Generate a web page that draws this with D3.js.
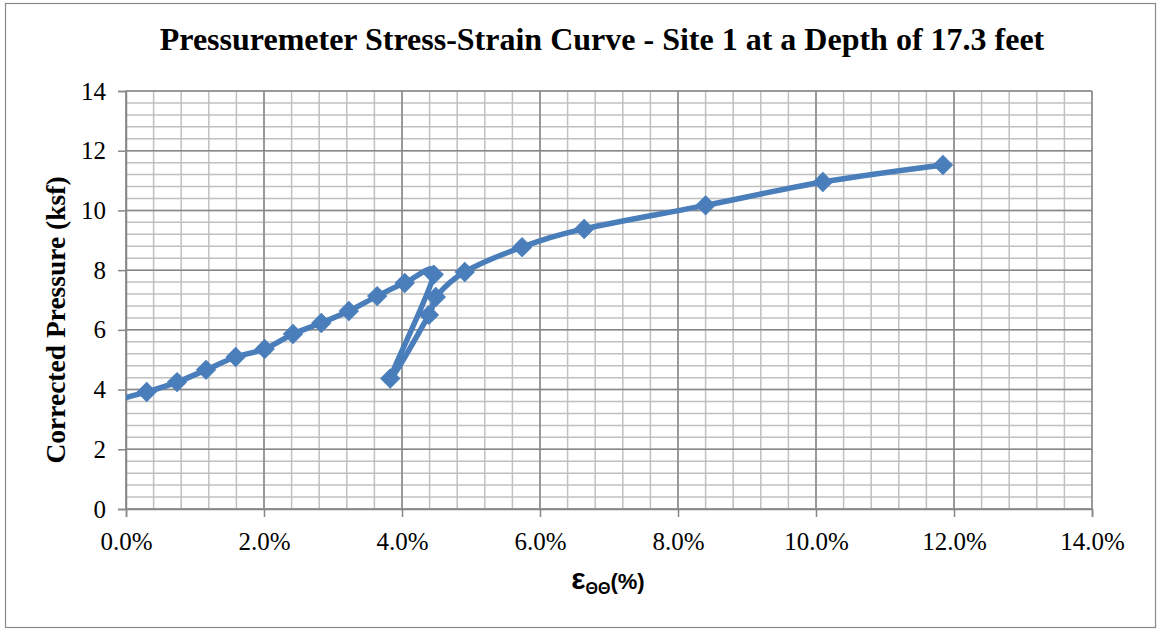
<!DOCTYPE html>
<html>
<head>
  <meta charset="utf-8">
  <title>Pressuremeter Stress-Strain Curve</title>
  <script src="https://d3js.org/d3.v7.min.js"></script>
  <style>
    body { margin: 0; background: #fff; }
    .tick text { font-family: "Liberation Serif", "Times New Roman", serif; font-size: 25px; fill: #000; }
    .title { font-family: "Liberation Serif", "Times New Roman", serif; font-weight: bold; font-size: 32px; }
    .ylabel { font-family: "Liberation Serif", "Times New Roman", serif; font-weight: bold; font-size: 27.5px; }
    .xlabel { font-family: "Liberation Sans", Arial, sans-serif; font-weight: bold; }
  </style>
</head>
<body>
  <svg width="1157" height="629"></svg>
  <script>
    // strain in percent, corrected pressure in ksf (first point sits left of the axis, clipped like the original)
    var strain = [-0.30, 0.30, 0.74, 1.16, 1.59, 2.01, 2.42, 2.83, 3.23, 3.64, 4.04, 4.46, 3.83, 4.39, 4.49, 4.91, 5.74, 6.64, 8.40, 10.10, 11.84];
    var pressure = [3.55, 3.92, 4.25, 4.66, 5.09, 5.36, 5.86, 6.23, 6.63, 7.13, 7.57, 7.85, 4.37, 6.50, 7.10, 7.94, 8.77, 9.38, 10.17, 10.95, 11.52];
    var xTicks = [0, 2, 4, 6, 8, 10, 12, 14];
    var yTicks = [0, 2, 4, 6, 8, 10, 12, 14];
    var xMinor = d3.range(0, 14.01, 0.4);
    var yMinor = d3.range(0, 14.01, 0.4);

    (function () {
      var points = strain.map(function (d, i) { return { x: d, y: pressure[i] }; });

      var pLeft = 126, pRight = 1092, pTop = 91, pBottom = 509;
      var svg = d3.select('svg');

      // outer chart border
      svg.append('rect')
        .attr('x', 5.5).attr('y', 3.5).attr('width', 1150).attr('height', 624)
        .attr('fill', 'none').attr('stroke', '#898989').attr('stroke-width', 1.2);

      var x = d3.scaleLinear().domain([0, 14]).range([pLeft, pRight]);
      var y = d3.scaleLinear().domain([0, 14]).range([pBottom, pTop]);

      // minor grid
      svg.append('g').selectAll('line').data(xMinor).enter().append('line')
        .attr('x1', d => x(d)).attr('x2', d => x(d)).attr('y1', pTop).attr('y2', pBottom)
        .attr('stroke', '#c0c0c0').attr('stroke-width', 1.5);
      svg.append('g').selectAll('line').data(yMinor).enter().append('line')
        .attr('y1', d => y(d)).attr('y2', d => y(d)).attr('x1', pLeft).attr('x2', pRight)
        .attr('stroke', '#c0c0c0').attr('stroke-width', 1.5);

      // major grid
      svg.append('g').selectAll('line').data(xTicks).enter().append('line')
        .attr('x1', d => x(d)).attr('x2', d => x(d)).attr('y1', pTop).attr('y2', pBottom)
        .attr('stroke', '#878787').attr('stroke-width', 1.5);
      svg.append('g').selectAll('line').data(yTicks).enter().append('line')
        .attr('y1', d => y(d)).attr('y2', d => y(d)).attr('x1', pLeft).attr('x2', pRight)
        .attr('stroke', '#878787').attr('stroke-width', 1.5);

      // axes
      var xAxis = d3.axisBottom(x).tickValues(xTicks).tickSize(8).tickPadding(10)
        .tickFormat(d => d.toFixed(1) + '%');
      var yAxis = d3.axisLeft(y).tickValues(yTicks).tickSize(8).tickPadding(12);

      var gx = svg.append('g').attr('transform', 'translate(0,' + pBottom + ')').call(xAxis);
      var gy = svg.append('g').attr('transform', 'translate(' + pLeft + ',0)').call(yAxis);
      [gx, gy].forEach(function (g) {
        g.select('.domain').attr('stroke', '#878787').attr('stroke-width', 1.5);
        g.selectAll('.tick line').attr('stroke', '#878787').attr('stroke-width', 1.5);
        g.selectAll('.tick text').attr('font-family', null).attr('font-size', null);
      });
      gx.attr('font-family', null).attr('font-size', null);
      gy.attr('font-family', null).attr('font-size', null);
      gx.selectAll('.tick text').attr('dy', '0.9em');

      // clip to plot area
      svg.append('clipPath').attr('id', 'plot')
        .append('rect').attr('x', pLeft).attr('y', pTop - 12).attr('width', pRight - pLeft + 12).attr('height', pBottom - pTop + 12);

      var plot = svg.append('g').attr('clip-path', 'url(#plot)');
      var color = '#4a7ebb';

      var line = d3.line()
        .x(d => x(d.x)).y(d => y(d.y))
        .curve(d3.curveCardinal.tension(0));

      plot.append('path').datum(points)
        .attr('d', line)
        .attr('fill', 'none').attr('stroke', color).attr('stroke-width', 5.5)
        .attr('stroke-linejoin', 'round');

      var diamond = d3.symbol().type(d3.symbolSquare).size(180);
      plot.selectAll('path.marker').data(points).enter().append('path')
        .attr('class', 'marker')
        .attr('d', diamond)
        .attr('transform', d => 'translate(' + x(d.x) + ',' + y(d.y) + ') rotate(45)')
        .attr('fill', color).attr('stroke', color).attr('stroke-width', 1);

      // title
      svg.append('text').attr('class', 'title')
        .attr('x', 602).attr('y', 50).attr('text-anchor', 'middle')
        .text('Pressuremeter Stress-Strain Curve - Site 1 at a Depth of 17.3 feet');

      // y label
      svg.append('text').attr('class', 'ylabel')
        .attr('transform', 'translate(65,320) rotate(-90)')
        .attr('text-anchor', 'middle')
        .text('Corrected Pressure (ksf)');

      // x label
      var xl = svg.append('text').attr('class', 'xlabel')
        .attr('x', 608).attr('y', 589).attr('text-anchor', 'middle');
      xl.append('tspan').attr('font-size', 30).text('ε');
      xl.append('tspan').attr('font-size', 16).attr('dy', 5).text('ΘΘ');
      xl.append('tspan').attr('font-size', 22).attr('dy', -5).text('(%)');
    })();
  </script>
</body>
</html>
